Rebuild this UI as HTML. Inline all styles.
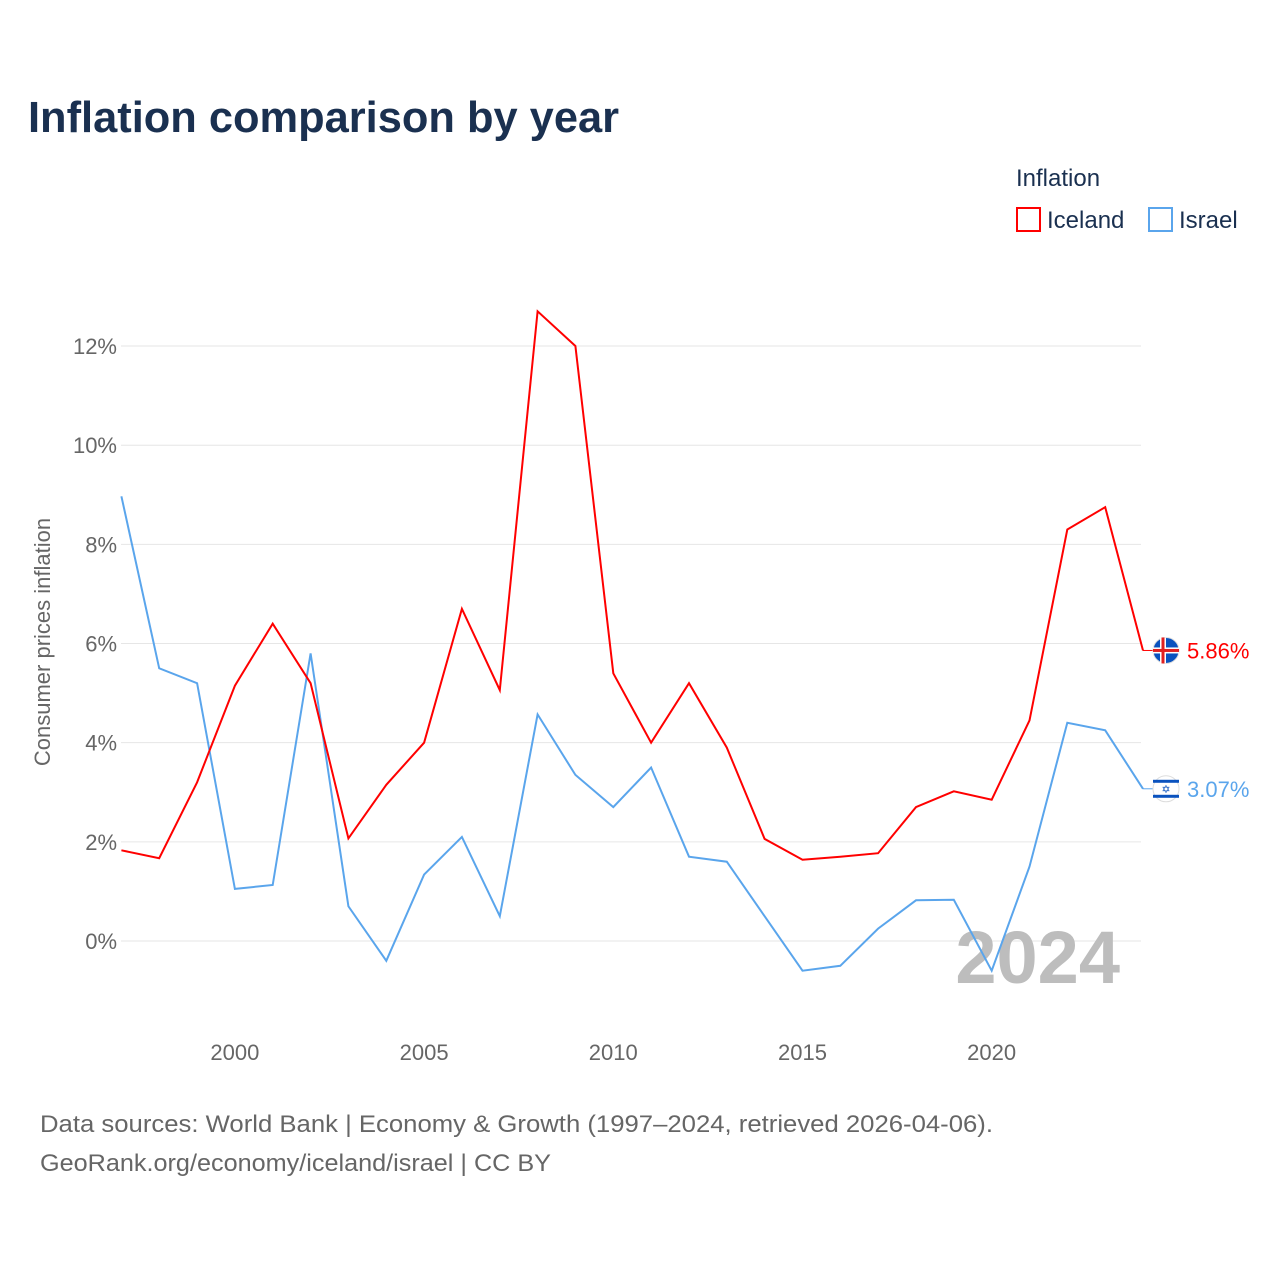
<!DOCTYPE html>
<html><head><meta charset="utf-8"><style>
body{margin:0;background:#fff;font-family:"Liberation Sans",sans-serif}
</style></head><body>
<svg width="1280" height="1280" xmlns="http://www.w3.org/2000/svg">
<text x="28" y="132" font-size="44" font-weight="bold" fill="#1a3050" textLength="591" lengthAdjust="spacingAndGlyphs">Inflation comparison by year</text>
<text x="1016" y="186" font-size="24" fill="#1a3050">Inflation</text>
<g><rect x="1017" y="208" width="23" height="23" fill="none" stroke="red" stroke-width="2"/><text x="1047" y="228" font-size="24" fill="#1a3050">Iceland</text></g>
<g><rect x="1149" y="208" width="23" height="23" fill="none" stroke="#5aa5ec" stroke-width="2"/><text x="1179" y="228" font-size="24" fill="#1a3050">Israel</text></g>
<text transform="translate(50,642) rotate(-90)" text-anchor="middle" font-size="22" fill="#666">Consumer prices inflation</text>
<g id="grid"></g><g id="xt"></g>
<text x="1120" y="983" text-anchor="end" font-size="74" font-weight="bold" fill="#bdbdbd">2024</text>
<g id="lines"></g>
<text x="40" y="1132" font-size="24" fill="#666" textLength="953" lengthAdjust="spacingAndGlyphs">Data sources: World Bank | Economy &amp; Growth (1997–2024, retrieved 2026-04-06).</text>
<text x="40" y="1171" font-size="24" fill="#666" textLength="511" lengthAdjust="spacingAndGlyphs">GeoRank.org/economy/iceland/israel | CC BY</text>
</svg>
<script>
const years=[];for(let y=1997;y<=2024;y++)years.push(y);
const iceland=[1.83,1.67,3.2,5.15,6.4,5.2,2.07,3.15,4.0,6.7,5.06,12.7,12.0,5.4,4.0,5.2,3.9,2.06,1.64,1.7,1.77,2.7,3.02,2.85,4.45,8.3,8.75,5.86];
const israel=[8.97,5.5,5.2,1.05,1.13,5.8,0.7,-0.4,1.34,2.1,0.5,4.57,3.35,2.7,3.5,1.7,1.6,0.5,-0.6,-0.5,0.25,0.82,0.83,-0.6,1.5,4.4,4.25,3.07];
const yTicks=[0,2,4,6,8,10,12];
const xTicks=[2000,2005,2010,2015,2020];
const NS="http://www.w3.org/2000/svg";
const X=v=>121.4+(v-1997)*(1143-121.4)/27;
const Y=v=>941-v*49.58;
function mk(t,a,p){const e=document.createElementNS(NS,t);for(const k in a)e.setAttribute(k,a[k]);p.appendChild(e);return e;}
const g=document.getElementById('grid');
yTicks.forEach(t=>{
 const l=mk('line',{x1:121,x2:1141,y1:Y(t),y2:Y(t),stroke:'#e6e6e6','stroke-width':1},g);
 
 
 const tx=mk('text',{x:117,y:Y(t)+8,'text-anchor':'end','font-size':22,fill:'#666'},g);tx.textContent=t+'%';
 
 
});
const xg=document.getElementById('xt');
xTicks.forEach(t=>{
 const tx=mk('text',{x:X(t),y:1060,'text-anchor':'middle','font-size':22,fill:'#666'},xg);tx.textContent=t;
 
 
});
const lg=document.getElementById('lines');
function series(vals,col,name){
 const d=vals.map((v,i)=>(i?'L':'M')+X(years[i]).toFixed(1)+','+Y(v).toFixed(1)).join(' ');
 const p=mk('path',{d:d,fill:'none',stroke:col,'stroke-width':2},lg);
 
 
 const last=vals[vals.length-1],ly=Y(last);
 mk('line',{x1:X(2024),x2:1154,y1:ly,y2:ly,stroke:col,'stroke-width':1},lg);
 const c=mk('circle',{cx:1166,cy:ly,r:13,fill:name==='iceland'?'#0a52be':'#fff',stroke:'#ddd'},lg);
 
 
 if(name==='iceland'){mk('rect',{x:1153,y:ly-3,width:26,height:6,fill:'#fff'},lg);mk('rect',{x:1160,y:ly-13,width:6,height:26,fill:'#fff'},lg);mk('rect',{x:1153,y:ly-1.5,width:26,height:3,fill:'#e02020'},lg);mk('rect',{x:1161.5,y:ly-13,width:3,height:26,fill:'#e02020'},lg);}
 else{mk('rect',{x:1153,y:ly-9,width:26,height:3,fill:'#0a52be'},lg);mk('rect',{x:1153,y:ly+6,width:26,height:3,fill:'#0a52be'},lg);const s=mk('text',{x:1166,y:ly+4,'text-anchor':'middle','font-size':11,fill:'#0a52be'},lg);s.textContent='✡';}
 const t=mk('text',{x:1187,y:ly+8,'font-size':22,fill:col},lg);t.textContent=last.toFixed(2)+'%';
 
 
}
series(israel,'#5aa5ec','israel');
series(iceland,'red','iceland');
</script>
</body></html>
